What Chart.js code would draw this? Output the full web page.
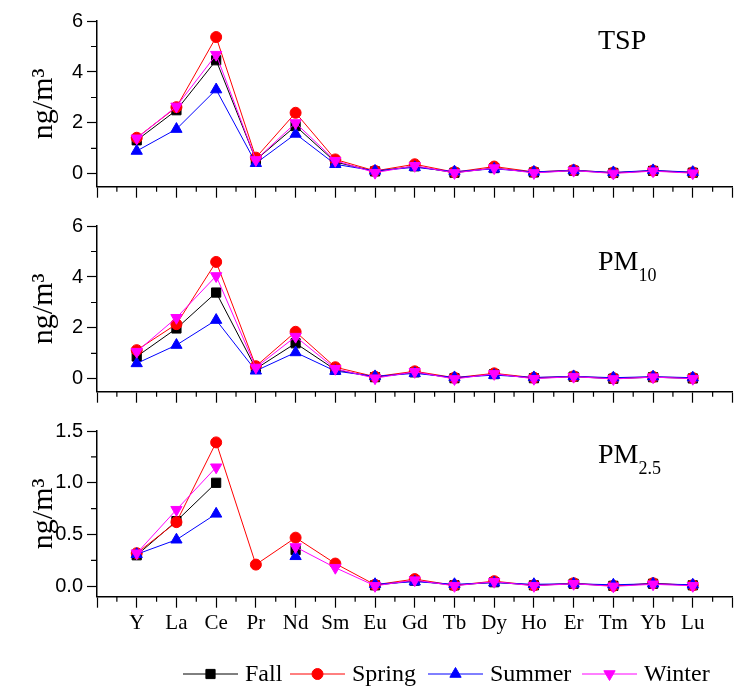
<!DOCTYPE html>
<html>
<head>
<meta charset="utf-8">
<script src="https://cdn.jsdelivr.net/npm/chart.js@4.4.0/dist/chart.umd.min.js"></script>
<style>
body { margin: 0; background: #fff; }
#wrap { position: relative; width: 740px; height: 687px; }
canvas { position: absolute; left: 0; }
</style>
</head>
<body>
<div id="wrap">
<canvas id="tspChart" width="740" height="205" style="top:0px"></canvas>
<canvas id="pm10Chart" width="740" height="205" style="top:205px"></canvas>
<canvas id="pm25Chart" width="740" height="277" style="top:410px"></canvas>
</div>
<script>
const ELEMENTS = ['Y', 'La', 'Ce', 'Pr', 'Nd', 'Sm', 'Eu', 'Gd', 'Tb', 'Dy', 'Ho', 'Er', 'Tm', 'Yb', 'Lu']
const SEASONS = ['Fall', 'Spring', 'Summer', 'Winter']

// TSP, ng/m3
let tspFall   = [1.32, 2.50, 4.46, 0.55, 1.88, 0.47, 0.10, 0.30, 0.05, 0.23, 0.06, 0.13, 0.04, 0.12, 0.05]
let tspSpring = [1.42, 2.62, 5.37, 0.64, 2.40, 0.57, 0.12, 0.38, 0.07, 0.29, 0.08, 0.15, 0.05, 0.13, 0.06]
let tspSummer = [0.90, 1.76, 3.31, 0.42, 1.57, 0.38, 0.12, 0.26, 0.09, 0.20, 0.08, 0.14, 0.06, 0.14, 0.07]
let tspWinter = [1.40, 2.65, 4.68, 0.55, 2.00, 0.52, 0.05, 0.32, 0.04, 0.23, 0.04, 0.13, 0.02, 0.11, 0.03]

// PM10
let pm10Fall   = [0.88, 1.98, 3.39, 0.40, 1.40, 0.36, 0.07, 0.26, 0.03, 0.19, 0.03, 0.09, 0.01, 0.07, 0.02]
let pm10Spring = [1.13, 2.15, 4.59, 0.50, 1.85, 0.46, 0.09, 0.30, 0.05, 0.22, 0.05, 0.10, 0.03, 0.08, 0.04]
let pm10Summer = [0.61, 1.33, 2.31, 0.32, 1.04, 0.31, 0.10, 0.22, 0.06, 0.15, 0.06, 0.10, 0.05, 0.09, 0.05]
let pm10Winter = [1.07, 2.40, 4.04, 0.45, 1.66, 0.40, 0.03, 0.28, 0.00, 0.20, 0.01, 0.09, 0.00, 0.07, 0.01]

// PM2.5 (gaps where no value was plotted)
let pm25Fall   = [0.30, 0.63, 1.00, null, 0.35, null, 0.010, 0.055, 0.010, 0.040, 0.010, 0.025, 0.005, 0.025, 0.010]
let pm25Spring = [0.32, 0.62, 1.39, 0.21, 0.47, 0.22, 0.015, 0.070, 0.010, 0.050, 0.010, 0.030, 0.005, 0.030, 0.010]
let pm25Summer = [0.31, 0.45, 0.70, null, 0.29, null, 0.020, 0.045, 0.020, 0.035, 0.020, 0.025, 0.015, 0.025, 0.015]
let pm25Winter = [0.32, 0.74, 1.15, null, 0.38, 0.18, 0.005, 0.060, 0.005, 0.045, 0.005, 0.025, 0.000, 0.020, 0.005]

let xTicks = [-1, 0, 1, 2, 3, 4, 5, 6, 7, 8, 9, 10, 11, 12, 13, 14, 15]
let xMinor = [-0.5, 0.5, 1.5, 2.5, 3.5, 4.5, 5.5, 6.5, 7.5, 8.5, 9.5, 10.5, 11.5, 12.5, 13.5, 14.5]
let yTicksBig = [0, 2, 4, 6]
let yMinorBig = [1, 3, 5]
let yTicksSmall = [0, 0.5, 1.0, 1.5]
let yMinorSmall = [0.25, 0.75, 1.25]

const seasonStyles = [
    { color: '#000000', pointStyle: 'rect', radius: 6.5, rotation: 0, order: 3 },
    { color: '#ff0000', pointStyle: 'circle', radius: 5.5, rotation: 0, order: 2 },
    { color: '#0000ff', pointStyle: 'triangle', radius: 6.5, rotation: 0, order: 1 },
    { color: '#ff00ff', pointStyle: 'triangle', radius: 6.5, rotation: 180, order: 0 }
]

function makeDatasets(seriesList) {
    return seriesList.map((values, i) => {
        let st = seasonStyles[i]
        return {
            label: SEASONS[i],
            data: values.map((v, j) => ({ x: j, y: v })),
            borderColor: st.color,
            backgroundColor: st.color,
            borderWidth: 1,
            pointStyle: st.pointStyle,
            pointRadius: st.radius,
            pointRotation: st.rotation,
            pointBorderWidth: 1,
            pointBackgroundColor: st.color,
            pointBorderColor: st.color,
            order: st.order,
            tension: 0
        }
    })
}

const minorTicks = {
    id: 'minorTicks',
    afterDraw(chart, args, opts) {
        let ctx = chart.ctx
        let xs = chart.scales.x
        let ys = chart.scales.y
        ctx.save()
        ctx.strokeStyle = '#000'
        ctx.lineWidth = 1.2
        ctx.beginPath()
        opts.xMinor.forEach(v => {
            let px = xs.getPixelForValue(v)
            ctx.moveTo(px, xs.top)
            ctx.lineTo(px, xs.top + 5)
        })
        opts.yMinor.forEach(v => {
            let py = ys.getPixelForValue(v)
            ctx.moveTo(ys.right, py)
            ctx.lineTo(ys.right - 6, py)
        })
        ctx.stroke()
        ctx.restore()
    }
}

const panelLabel = {
    id: 'panelLabel',
    afterDraw(chart, args, opts) {
        let ctx = chart.ctx
        ctx.save()
        ctx.fillStyle = '#000'
        ctx.textBaseline = 'alphabetic'
        ctx.font = '28px "Liberation Serif"'
        ctx.fillText(opts.text, opts.x, opts.y)
        if (opts.sub) {
            let w = ctx.measureText(opts.text).width
            ctx.font = '18px "Liberation Serif"'
            ctx.fillText(opts.sub, opts.x + w, opts.y + 11)
        }
        ctx.restore()
    }
}

// line + marker legend under the last panel
const seasonLegend = {
    id: 'seasonLegend',
    afterDraw(chart, args, opts) {
        let ctx = chart.ctx
        ctx.save()
        ctx.font = '24px "Liberation Serif"'
        ctx.textBaseline = 'middle'
        SEASONS.forEach((name, i) => {
            let st = seasonStyles[i]
            let x0 = opts.xs[i]
            let y = opts.y
            ctx.strokeStyle = st.color
            ctx.fillStyle = st.color
            ctx.lineWidth = 1
            ctx.beginPath()
            ctx.moveTo(x0, y)
            ctx.lineTo(x0 + opts.lineLen, y)
            ctx.stroke()
            Chart.helpers.drawPoint(ctx, { pointStyle: st.pointStyle, radius: st.radius, rotation: st.rotation, borderWidth: 1 }, x0 + opts.lineLen / 2, y)
            ctx.fillStyle = '#000'
            ctx.fillText(name, x0 + opts.lineLen + 7, y + 1)
        })
        ctx.restore()
    }
}

function makeChart(canvasId, seriesList, yMin, yMax, yTicks, yMinor, label, sub, labelY, showX, xHeight, padBottom, legend) {
    let plugins = [minorTicks, panelLabel]
    if (legend) plugins.push(seasonLegend)
    return new Chart(document.getElementById(canvasId), {
        type: 'line',
        data: { datasets: makeDatasets(seriesList) },
        options: {
            responsive: false,
            animation: false,
            layout: { padding: { top: 21, left: 0, right: 0, bottom: padBottom } },
            plugins: {
                legend: { display: false },
                tooltip: { enabled: false },
                minorTicks: { xMinor: xMinor, yMinor: yMinor },
                panelLabel: { text: label, sub: sub, x: 598, y: labelY },
                seasonLegend: { xs: [183, 290, 428, 582], lineLen: 55, y: 264 }
            },
            scales: {
                x: {
                    type: 'linear',
                    min: -1,
                    max: 15,
                    afterBuildTicks: s => { s.ticks = xTicks.map(v => ({ value: v })) },
                    afterFit: s => { s.height = xHeight },
                    grid: { drawOnChartArea: false, tickLength: 11, tickColor: '#000', tickWidth: 1.2 },
                    border: { color: '#000', width: 1.5 },
                    ticks: {
                        display: showX,
                        autoSkip: false,
                        maxRotation: 0,
                        padding: 3,
                        color: '#000',
                        font: { family: 'Liberation Serif', size: 21 },
                        callback: v => ELEMENTS[v] || ''
                    }
                },
                y: {
                    min: yMin,
                    max: yMax,
                    afterBuildTicks: s => { s.ticks = yTicks.map(v => ({ value: v })) },
                    afterFit: s => { s.width = 97 },
                    grid: { drawOnChartArea: false, tickLength: 10, tickColor: '#000', tickWidth: 1.2 },
                    border: { color: '#000', width: 1.5 },
                    ticks: {
                        padding: 4,
                        color: '#000',
                        font: { family: 'Liberation Sans', size: 20 },
                        callback: v => yMax < 2 ? v.toFixed(1) : String(v)
                    },
                    title: {
                        display: true,
                        text: 'ng/m³',
                        color: '#000',
                        font: { family: 'Liberation Serif', size: 30 },
                        padding: { top: 26, bottom: 0 }
                    }
                }
            }
        },
        plugins: plugins
    })
}

makeChart('tspChart', [tspFall, tspSpring, tspSummer, tspWinter], -0.5, 6, yTicksBig, yMinorBig, 'TSP', '', 48.5, false, 12, 6.3, false)
makeChart('pm10Chart', [pm10Fall, pm10Spring, pm10Summer, pm10Winter], -0.5, 6, yTicksBig, yMinorBig, 'PM', '10', 65, false, 12, 6.3, false)
makeChart('pm25Chart', [pm25Fall, pm25Spring, pm25Summer, pm25Winter], -0.1, 1.5, yTicksSmall, yMinorSmall, 'PM', '2.5', 53, true, 50, 40.3, true)
</script>
</body>
</html>
